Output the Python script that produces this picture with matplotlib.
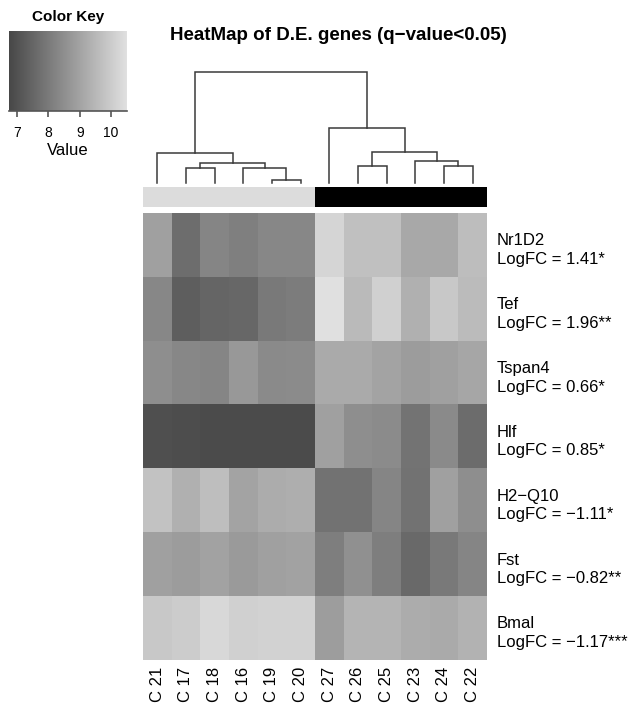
import numpy as np
import matplotlib
matplotlib.use("Agg")
import matplotlib.pyplot as plt
from matplotlib.colors import LinearSegmentedColormap, ListedColormap
from matplotlib.transforms import blended_transform_factory

plt.rcParams['font.family'] = ['Liberation Sans', 'DejaVu Sans']

# columns in dendrogram order
samples = ["C 21", "C 17", "C 18", "C 16", "C 19", "C 20",
           "C 27", "C 26", "C 25", "C 23", "C 24", "C 22"]
groups = [0, 0, 0, 0, 0, 0, 1, 1, 1, 1, 1, 1]

genes = ["Nr1D2", "Tef", "Tspan4", "Hlf", "H2\u2212Q10", "Fst", "Bmal"]
logfc = ["1.41*", "1.96**", "0.66*", "0.85*", "\u22121.11*", "\u22120.82**", "\u22121.17***"]

nr1d2 = [8.92, 7.69, 8.26, 8.13, 8.31, 8.33, 10.23, 9.71, 9.71, 9.12, 9.12, 9.64]
tef = [8.33, 7.30, 7.49, 7.54, 7.99, 8.04, 10.57, 9.56, 10.11, 9.32, 9.91, 9.61]
tspan4 = [8.48, 8.33, 8.28, 8.73, 8.38, 8.43, 9.17, 9.17, 9.02, 8.82, 8.92, 9.07]
hlf = [6.95, 6.90, 6.85, 6.85, 6.85, 6.85, 8.92, 8.48, 8.43, 7.84, 8.38, 7.64]
h2q10 = [9.76, 9.32, 9.66, 9.02, 9.22, 9.27, 7.81, 7.79, 8.26, 7.79, 8.92, 8.48]
fst = [8.92, 8.82, 8.97, 8.78, 8.92, 8.97, 8.09, 8.53, 8.09, 7.59, 7.99, 8.28]
bmal = [9.91, 10.01, 10.30, 10.11, 10.16, 10.16, 8.87, 9.42, 9.42, 9.22, 9.17, 9.37]

# dendrogram: leaves are 0..11, every merge (a, b, height) creates the next node id
merges = [(4, 5, 3.3), (1, 2, 15.0), (3, 12, 15.0), (13, 14, 20.0), (0, 15, 30.0),
          (7, 8, 16.7), (10, 11, 16.7), (9, 18, 21.7), (17, 19, 30.7), (6, 20, 55.0),
          (16, 21, 111.7)]

key_ticks = [7, 8, 9, 10]
vmin, vmax = 6.74, 10.51

W, H = 632, 705
fig = plt.figure(figsize=(W / 100, H / 100), dpi=100)


def px_axes(x0, y0, x1, y1):
    return fig.add_axes([x0 / W, 1 - y1 / H, (x1 - x0) / W, (y1 - y0) / H])


cmap = LinearSegmentedColormap.from_list("grey_key", [(0.28, 0.28, 0.28), (0.88, 0.88, 0.88)])
expr = np.array([nr1d2, tef, tspan4, hlf, h2q10, fst, bmal])
n = len(samples)

# heatmap
ax = px_axes(143, 213, 487, 660)
ax.imshow(expr, cmap=cmap, vmin=vmin, vmax=vmax, aspect='auto', interpolation='nearest')
ax.set_xticks(range(n))
ax.set_xticklabels(samples, rotation=90, fontsize=12)
ax.set_yticks([])
ax.tick_params(axis='x', length=0, pad=5)
for s in ax.spines.values():
    s.set_visible(False)
tr = blended_transform_factory(ax.transAxes, ax.transData)
for i, (g, fc) in enumerate(zip(genes, logfc)):
    ax.text(1.029, i + 0.08, f"{g}\nLogFC = {fc}", transform=tr, ha='left', va='center',
            fontsize=12, linespacing=1.3)

# column side colours
ax_side = px_axes(143, 187, 487, 207)
ax_side.imshow([groups], cmap=ListedColormap(['#dcdcdc', 'black']), aspect='auto')
ax_side.set_axis_off()

# column dendrogram
ax_d = px_axes(143, 72, 487, 183)
pos = {i: float(i) for i in range(n)}
hgt = {i: 0.0 for i in range(n)}
for k, (a, b, h) in enumerate(merges):
    ax_d.plot([pos[a], pos[a], pos[b], pos[b]], [hgt[a], h, h, hgt[b]],
              color='#3a3a3a', lw=1.1, clip_on=False, solid_joinstyle='miter')
    pos[n + k] = (pos[a] + pos[b]) / 2
    hgt[n + k] = h
ax_d.set_xlim(-0.5, n - 0.5)
ax_d.set_ylim(0, merges[-1][2])
ax_d.set_axis_off()

# colour key
ax_k = px_axes(9, 31, 127, 111)
grad = np.linspace(vmin, vmax, 256)[None, :]
ax_k.imshow(grad, cmap=cmap, vmin=vmin, vmax=vmax, aspect='auto',
            extent=[vmin, vmax, 0, 1])
ax_k.set_xticks(key_ticks)
ax_k.set_yticks([])
for side in ['top', 'left', 'right']:
    ax_k.spines[side].set_visible(False)
ax_k.spines['bottom'].set_color('#555555')
ax_k.spines['bottom'].set_linewidth(1.2)
ax_k.tick_params(axis='x', length=4.5, width=1.2, color='#555555', labelsize=10, pad=6.5)
ax_k.set_xlabel("Value", fontsize=12, labelpad=2)
ax_k.set_title("Color Key", fontsize=11, fontweight='bold', pad=7)

fig.text(338 / W, 1 - 35 / H, "HeatMap of D.E. genes (q\u2212value<0.05)",
         ha='center', va='center', fontsize=13.5, fontweight='bold')

fig.savefig("out.png", dpi=100)
